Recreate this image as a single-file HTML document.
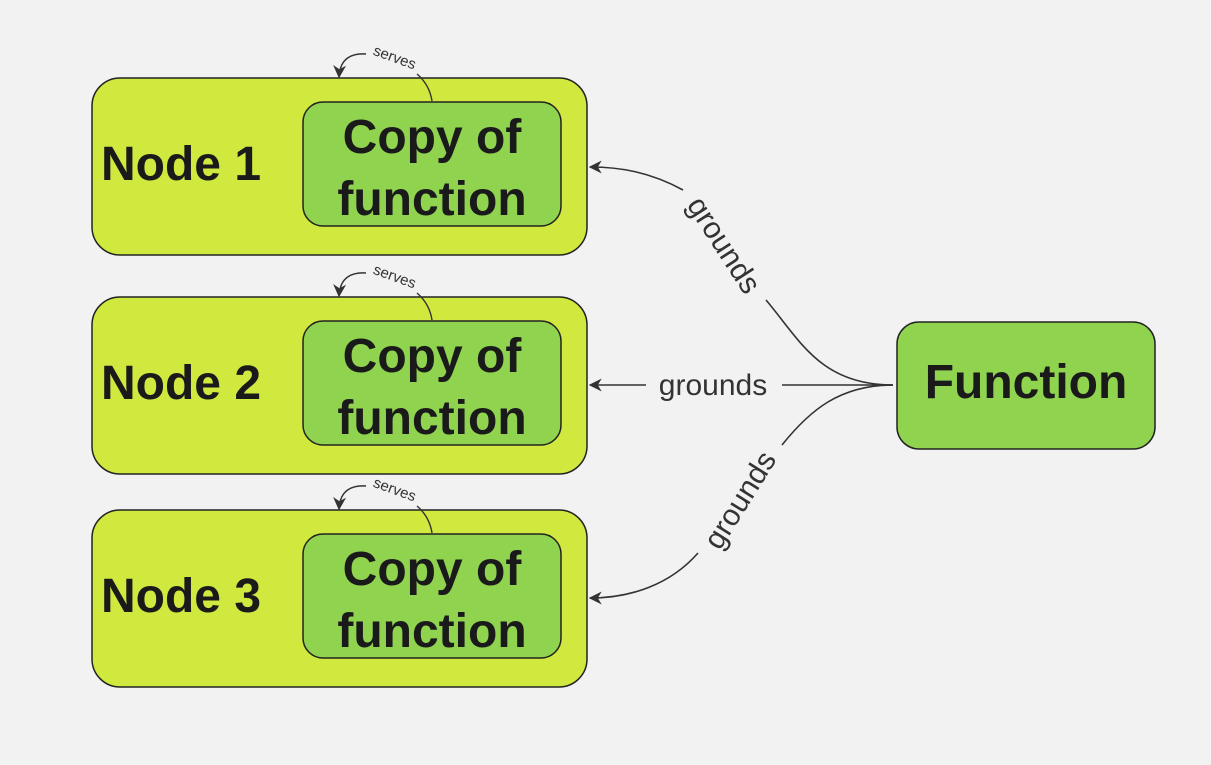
<!DOCTYPE html>
<html><head><meta charset="utf-8"><style>
html,body{margin:0;padding:0;background:#f2f2f2;}
svg{display:block;}
text{font-family:"Liberation Sans",sans-serif;}
</style></head><body>
<svg width="1211" height="765" viewBox="0 0 1211 765" xmlns="http://www.w3.org/2000/svg">
<defs>
<marker id="ah" viewBox="0 0 10 10" refX="9" refY="5" markerWidth="13" markerHeight="13" orient="auto-start-reverse" markerUnits="userSpaceOnUse">
<path d="M0,0 L10,5 L0,10 L3,5 z" fill="#333"/>
</marker>
</defs>
<rect width="1211" height="765" fill="#f2f2f2"/>

<g stroke="#222" stroke-width="1.5">
<rect x="92" y="78" width="495" height="177" rx="28" fill="#d1e83f"/>
<rect x="92" y="297" width="495" height="177" rx="28" fill="#d1e83f"/>
<rect x="92" y="510" width="495" height="177" rx="28" fill="#d1e83f"/>
<rect x="303" y="102" width="258" height="124" rx="20" fill="#8fd34f"/>
<rect x="303" y="321" width="258" height="124" rx="20" fill="#8fd34f"/>
<rect x="303" y="534" width="258" height="124" rx="20" fill="#8fd34f"/>
<rect x="897" y="322" width="258" height="127" rx="22" fill="#8fd34f"/>
</g>

<g font-weight="bold" font-size="48" fill="#1a1a1a">
<text x="101" y="180">Node 1</text>
<text x="101" y="399">Node 2</text>
<text x="101" y="612">Node 3</text>
<g text-anchor="middle">
<text x="432" y="153">Copy of</text>
<text x="432" y="215">function</text>
<text x="432" y="372">Copy of</text>
<text x="432" y="434">function</text>
<text x="432" y="585">Copy of</text>
<text x="432" y="647">function</text>
<text x="1026" y="398">Function</text>
</g>
</g>

<g fill="none" stroke="#333" stroke-width="1.6">
<path d="M893,385 C820,385 800,340 766,300" />
<path d="M683,190 C650,172 620,167 590,167" marker-end="url(#ah)"/>
<path d="M893,385 L782,385"/>
<path d="M646,385 L590,385" marker-end="url(#ah)"/>
<path d="M893,385 C840,385 810,410 782,445"/>
<path d="M698,553 C670,585 630,598 590,598" marker-end="url(#ah)"/>
</g>
<g font-size="30" fill="#333">
<text x="713" y="395" text-anchor="middle">grounds</text>
<text transform="translate(724,245) rotate(57)" text-anchor="middle" dy="10">grounds</text>
<text transform="translate(740,500) rotate(-58)" text-anchor="middle" dy="10">grounds</text>
</g>

<g id="s1">
<path d="M432,101 C430,88 424,80 417,74" fill="none" stroke="#333" stroke-width="1.4"/>
<path d="M366,54 C352,53 340,58 339,77" fill="none" stroke="#333" stroke-width="1.4" marker-end="url(#ah)"/>
<text transform="translate(393,62) rotate(20)" text-anchor="middle" font-size="15" fill="#333">serves</text>
</g>
<use href="#s1" transform="translate(0,219)"/>
<use href="#s1" transform="translate(0,432)"/>
</svg>
</body></html>
